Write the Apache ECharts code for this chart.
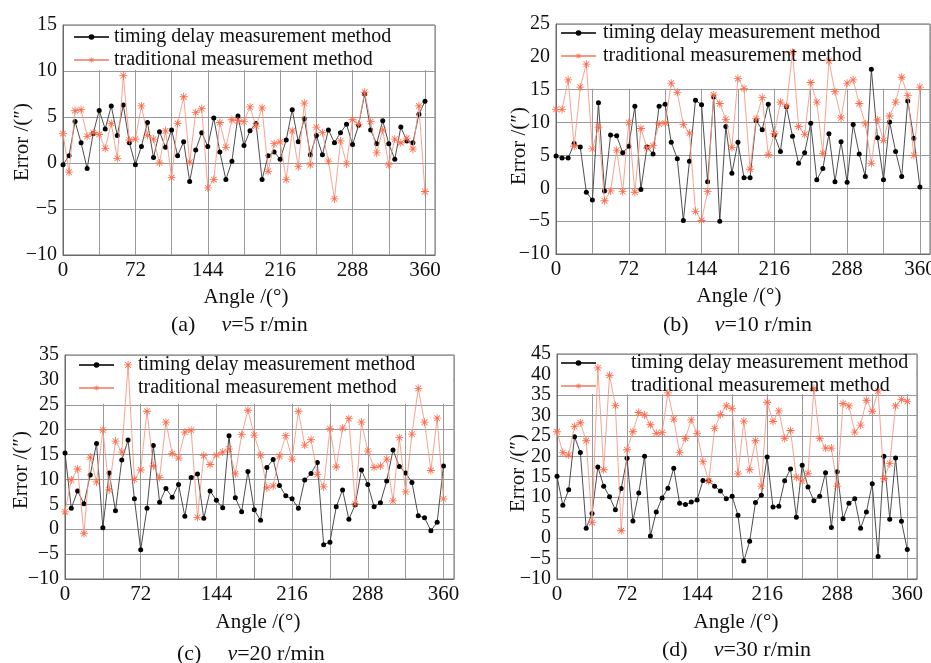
<!DOCTYPE html>
<html>
<head>
<meta charset="utf-8">
<script src="https://cdn.jsdelivr.net/npm/echarts@6/dist/echarts.min.js"></script>
<style>
html,body{margin:0;padding:0;background:#fff;}
#main{width:931px;height:663px;}
</style>
</head>
<body>
<div id="main"></div>
<script>
// ---------- data ----------
const angles = [0,6,12,18,24,30,36,42,48,54,60,66,72,78,84,90,96,102,108,114,120,126,132,138,144,150,156,162,168,174,180,186,192,198,204,210,216,222,228,234,240,246,252,258,264,270,276,282,288,294,300,306,312,318,324,330,336,342,348,354,360];
const xTickLabels = [0,72,144,216,288,360];
const seriesNames = ['timing delay measurement method','traditional measurement method'];

const a_timing = [-0.2,0.8,4.5,2.2,-0.6,3.2,5.7,3.7,6.2,3.0,6.3,2.2,-0.2,1.8,4.4,0.6,3.4,1.7,3.6,0.8,2.3,-2.0,1.4,3.3,1.8,4.9,1.2,-1.8,0.2,5.1,1.9,3.5,4.3,-1.8,0.8,1.2,0.4,2.5,5.8,2.3,4.8,0.9,3.0,0.9,3.6,2.2,3.3,4.2,2.0,4.1,7.5,3.6,2.1,4.6,2.1,0.4,3.9,2.4,2.2,5.3,6.7];
const a_trad = [3.2,-1.0,5.7,5.8,2.9,3.3,3.1,1.6,4.3,0.5,9.5,2.5,2.6,6.2,3.0,2.6,0.0,3.5,-1.6,4.3,7.2,0.1,5.5,5.9,-2.7,-1.8,4.4,1.7,4.7,4.6,4.5,6.1,4.0,6.0,-0.9,2.1,2.3,-1.8,3.5,-0.4,6.5,-0.2,3.9,3.3,0.2,-3.9,2.4,-0.1,4.7,4.2,7.7,4.5,1.1,3.6,-0.2,2.6,2.2,2.7,1.5,6.2,-3.1];

const b_timing = [4.9,4.6,4.6,6.8,6.3,-0.6,-1.8,13.0,-0.4,8.1,8.0,5.4,6.4,12.5,-0.2,6.3,5.2,12.5,12.8,7.0,4.5,-4.9,4.1,13.4,12.7,1.0,13.9,-5.0,9.4,2.3,7.0,1.6,1.6,10.3,8.9,12.8,8.1,5.6,12.4,7.9,3.8,5.4,9.9,1.3,3.0,8.3,1.0,7.1,0.9,9.7,5.2,1.8,18.1,7.7,1.3,10.1,5.6,1.8,13.3,7.6,0.2];
const b_trad = [12.0,12.0,16.5,6.4,15.4,18.9,6.0,9.3,-1.9,-0.4,5.8,-0.5,10.0,-0.6,9.1,6.1,6.5,9.8,9.9,16.0,14.6,9.7,8.4,-3.5,-4.9,-0.5,14.2,12.9,10.5,6.2,16.7,15.2,2.9,10.6,13.8,5.1,8.3,13.1,12.5,20.7,9.4,8.2,16.1,13.1,5.3,19.4,14.7,10.7,16.0,16.5,12.9,9.8,3.8,10.4,7.3,11.0,13.1,16.9,14.1,5.0,15.4];

const c_timing = [15.3,4.2,7.7,5.1,10.9,17.2,0.3,11.3,3.7,13.9,17.9,6.1,-4.1,4.2,16.8,5.4,8.2,6.4,9.0,2.6,10.4,11.1,2.2,7.7,5.8,4.3,18.8,6.3,3.5,11.6,3.9,1.8,12.4,14.0,8.8,6.7,6.1,4.2,9.9,11.2,13.4,-3.1,-2.6,4.5,7.9,2.0,4.9,11.9,9.0,4.5,5.3,9.7,15.9,12.6,11.3,9.4,2.7,2.3,-0.3,1.4,12.7];
const c_trad = [3.5,9.9,12.1,-0.9,14.5,9.5,19.9,7.9,17.7,15.5,33.0,10.0,11.9,23.7,12.7,10.4,21.5,15.2,14.3,19.5,19.9,2.4,14.8,13.0,14.9,15.5,16.1,11.1,19.0,23.9,18.9,14.9,8.3,8.7,14.7,18.8,14.1,23.7,16.9,18.0,11.0,8.5,20.2,12.5,20.3,22.2,5.1,21.5,15.7,12.4,12.7,14.1,5.7,18.4,7.5,19.1,28.3,21.5,11.8,22.3,6.1];

const d_timing = [15.1,8.0,11.8,24.8,20.9,2.4,6.0,17.4,12.7,10.1,6.9,12.1,19.5,4.2,11.0,20.0,0.5,6.4,9.8,12.2,17.1,8.5,8.2,8.8,9.3,14.1,14.0,12.7,11.5,9.6,10.2,5.6,-5.6,-0.8,8.7,10.5,19.8,7.6,7.8,14.0,16.9,5.1,17.8,12.5,9.1,10.2,16.0,2.6,16.2,4.7,8.5,9.6,2.4,6.4,13.3,-4.5,20.0,4.6,19.6,4.1,-2.8];
const d_trad = [26.0,20.9,20.3,27.3,28.2,23.8,3.8,41.6,16.7,39.8,32.4,1.8,21.6,26.0,30.7,30.1,27.7,25.6,25.8,35.5,29.1,20.9,24.4,28.9,25.6,18.7,13.9,26.8,30.2,32.3,31.7,15.7,28.6,16.7,23.8,12.7,33.2,28.5,31.1,24.4,26.3,14.9,14.0,15.8,36.5,24.4,22.0,22.0,12.7,32.9,32.3,25.9,27.6,33.7,31.0,36.0,14.5,18.2,32.3,33.9,33.4];

const panelLabels = ['(a)','(b)','(c)','(d)'];
const panelSpeeds = ['=5 r/min','=10 r/min','=20 r/min','=30 r/min'];
const yMaxes = [15,25,35,45];
const legendFloors = [10,15,25,35];

// ---------- layout / style ----------
const FONT = 'Liberation Serif';
const layout = [
  {grid:{left:63,top:25,width:372,height:230}, legend:{left:73,top:27,pad:0}, xName:[246,297], yName:[22,142], cap:[171,325]},
  {grid:{left:556,top:24,width:374,height:230}, legend:{left:560,top:23,pad:2}, xName:[739,296], yName:[519,146], cap:[663,325]},
  {grid:{left:65,top:355,width:389,height:224}, legend:{left:78,top:355,pad:19}, xName:[258,622], yName:[21,470], cap:[177,654]},
  {grid:{left:557,top:354,width:360,height:225}, legend:{left:560,top:353,pad:30}, xName:[736,622], yName:[518,473], cap:[662,650]}
];
const timingData = [a_timing,b_timing,c_timing,d_timing];
const tradData = [a_trad,b_trad,c_trad,d_trad];

const XMIN = 0, XMAX = 370, YMIN = -10;
const star = 'path://M9,0L11,0L11,20L9,20ZM0,9L20,9L20,11L0,11ZM2.2,3.6L3.6,2.2L17.8,16.4L16.4,17.8ZM16.4,2.2L17.8,3.6L3.6,17.8L2.2,16.4Z';

const zip = (xs, ys) => ys.map((v, i) => [xs[i], v]);

const grids = [], xAxes = [], yAxes = [], series = [], legends = [], graphics = [];
layout.forEach((L, p) => {
  grids.push(Object.assign({show:true, borderColor:'#6a6a6a', borderWidth:1, backgroundColor:'#fff',
    containLabel:false, outerBoundsMode:'none'}, L.grid));
  xAxes.push({
    gridIndex:p, type:'value', min:XMIN, max:XMAX, interval:36,
    axisLine:{show:true, onZero:false, lineStyle:{color:'#6a6a6a', width:1}},
    axisTick:{show:false},
    splitLine:{show:true, lineStyle:{color:'#9a9a9a', width:1}},
    axisLabel:{color:'#111', fontFamily:FONT, fontSize:21, margin:5,
      formatter: v => xTickLabels.indexOf(v) >= 0 ? String(v) : ''}
  });
  yAxes.push({
    gridIndex:p, type:'value', min:YMIN, max:yMaxes[p], interval:5,
    axisLine:{show:true, lineStyle:{color:'#6a6a6a', width:1}},
    axisTick:{show:false},
    splitLine:{show:true, lineStyle:{color:'#9a9a9a', width:1}},
    axisLabel:{color:'#111', fontFamily:FONT, fontSize:20, lineHeight:12, margin:6, hideOverlap:false,
      formatter: v => String(v).replace('-', '\u2212')}
  });
  series.push({
    name:seriesNames[0], type:'line', xAxisIndex:p, yAxisIndex:p, z:2,
    data:zip(angles, timingData[p]),
    symbol:'circle', symbolSize:5, showSymbol:true,
    lineStyle:{color:'#3a3a3a', width:0.9},
    itemStyle:{color:'#000'},
    animation:false
  });
  series.push({
    name:seriesNames[1], type:'line', xAxisIndex:p, yAxisIndex:p, z:3,
    data:zip(angles, tradData[p]),
    symbol:star, symbolSize:8, showSymbol:true,
    lineStyle:{color:'#f59a86', width:0.9},
    itemStyle:{color:'#ff6a4a'},
    animation:false
  });
  legends.push({
    orient:'vertical', left:L.legend.left, top:L.legend.top, padding:0,
    itemWidth:35, itemHeight:7, itemGap:3,
    data:seriesNames,
    selectedMode:false,
    textStyle:{fontFamily:FONT, fontSize:20, color:'#111', padding:[0,0,0,L.legend.pad]}
  });
  graphics.push({type:'text', x:L.xName[0], y:L.xName[1],
    style:{text:'Angle /(\u00b0)', font:'21px "Liberation Serif"', fill:'#111', textAlign:'center', textVerticalAlign:'middle'}});
  graphics.push({type:'text', x:L.yName[0], y:L.yName[1], rotation:Math.PI/2,
    style:{text:'Error /(\u2033)', font:'21px "Liberation Serif"', fill:'#111', textAlign:'center', textVerticalAlign:'middle'}});
  graphics.push({type:'text', x:L.cap[0], y:L.cap[1],
    style:{text:'{n|' + panelLabels[p] + '}{g| }{i|v}{n|' + panelSpeeds[p] + '}',
      textVerticalAlign:'middle', textAlign:'left',
      rich:{
        n:{fontFamily:FONT, fontSize:22, fill:'#111', color:'#111'},
        g:{fontFamily:FONT, fontSize:22, width:26},
        i:{fontFamily:FONT, fontSize:22, fontStyle:'italic', fill:'#111', color:'#111'}
      }}});
});

const chart = echarts.init(document.getElementById('main'), null, {renderer:'canvas'});
chart.setOption({
  backgroundColor:'#fff',
  animation:false,
  grid:grids, xAxis:xAxes, yAxis:yAxes, series:series, legend:legends,
  graphic:graphics
});

// white legend region: covers grid lines above the legend floor, kept behind the data (z between axes and series)
const rects = layout.map((L, p) => {
  const pA = chart.convertToPixel({gridIndex:p}, [XMIN, legendFloors[p]]);
  const pB = chart.convertToPixel({gridIndex:p}, [XMAX, yMaxes[p]]);
  const x0 = Math.min(pA[0], pB[0]) + 1, x1 = Math.max(pA[0], pB[0]) - 1;
  const y0 = Math.min(pA[1], pB[1]) + 1, y1 = Math.max(pA[1], pB[1]) - 1;
  return {type:'rect', z:1, silent:true, shape:{x:x0, y:y0, width:x1 - x0, height:y1 - y0},
    style:{fill:'#ffffff', stroke:null}};
});
chart.setOption({graphic: graphics.concat(rects)});
</script>
</body>
</html>
